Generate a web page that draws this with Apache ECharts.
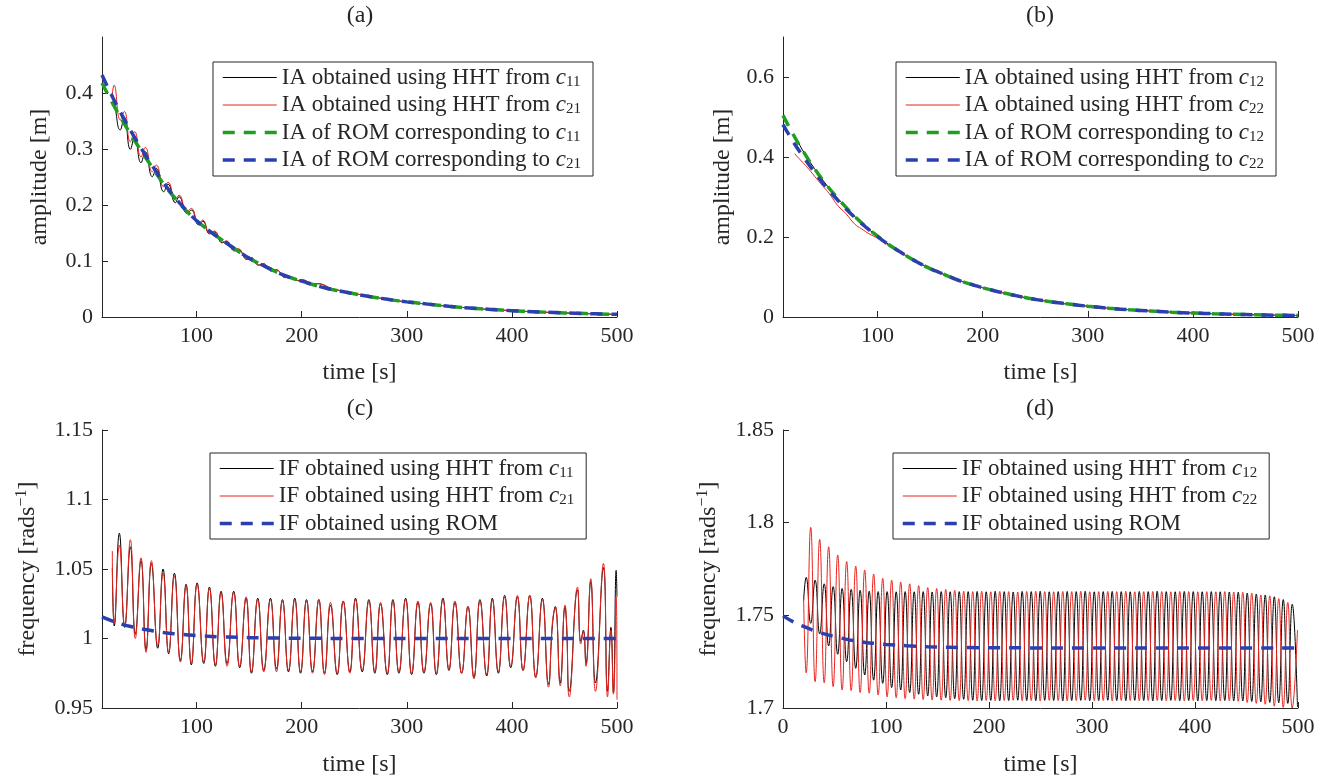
<!DOCTYPE html>
<html><head><meta charset="utf-8">
<script src="https://cdn.jsdelivr.net/npm/echarts@6/dist/echarts.min.js"></script>
<style>html,body{margin:0;padding:0;background:#fff}#c{width:1342px;height:782px}</style>
</head><body><div id="c"></div>
<script>
// ---------- Panel (a): instantaneous amplitude, c11 / c21 ----------
const aHhtTime = [19.5,21.5,27.4,31.2,37.0,41.0,47.1,51.2,57.9,61.7,68.7,72.8,79.8,83.3,90.9,95.0,102.0,105.8,112.5,117.0,124.3,128.4,136.0,139.5,148.1,151.9,159.1,163.3,171.9,175.7,184.6,188.4,197.0,201.0,210.0,214.0,230.0,250.0,275.0,300.0,350.0,400.0,450.0,500.0];
const aHhtC11 = [0.400,0.386,0.334,0.357,0.2995,0.321,0.2755,0.295,0.2505,0.2655,0.2236,0.2374,0.204,0.2147,0.185,0.191,0.1645,0.171,0.1485,0.152,0.1325,0.135,0.118,0.121,0.1027,0.1055,0.0925,0.095,0.0817,0.0842,0.0703,0.0725,0.0650,0.0662,0.0585,0.0596,0.0500,0.0420,0.0335,0.0270,0.0175,0.0113,0.0073,0.0047];
const aHhtC21 = [0.392,0.414,0.352,0.367,0.313,0.331,0.286,0.303,0.2594,0.2714,0.2326,0.2404,0.2088,0.2177,0.188,0.194,0.167,0.173,0.150,0.1535,0.1335,0.136,0.1185,0.122,0.103,0.1063,0.093,0.0955,0.082,0.0847,0.0705,0.0727,0.0652,0.0666,0.0587,0.0598,0.0502,0.0421,0.0336,0.0270,0.0175,0.0113,0.0073,0.0047];
const romTime = [10,20,30,40,50,60,70,80,90,100,110,120,130,140,150,160,170,180,190,200,220,240,260,280,300,320,340,360,380,400,420,440,460,480,500];
const aRomC11 = [0.418,0.382,0.349,0.318,0.289,0.261,0.234,0.211,0.190,0.172,0.157,0.143,0.130,0.117,0.105,0.095,0.086,0.077,0.070,0.064,0.053,0.045,0.038,0.032,0.027,0.023,0.019,0.016,0.0135,0.0113,0.0095,0.008,0.0067,0.0056,0.0047];
const aRomC21 = [0.432,0.393,0.357,0.324,0.293,0.264,0.236,0.212,0.191,0.172,0.157,0.143,0.130,0.117,0.105,0.095,0.086,0.077,0.070,0.064,0.053,0.045,0.038,0.032,0.027,0.023,0.019,0.016,0.0135,0.0113,0.0095,0.008,0.0067,0.0056,0.0047];

// ---------- Panel (b): instantaneous amplitude, c12 / c22 ----------
const bBlackTime = [23,30,40,50,60,70,80,90,100,120,140,160,180,200,250,300,350,400,450,500];
const bHhtC12 = [0.444,0.411,0.371,0.335,0.303,0.274,0.247,0.223,0.202,0.165,0.134,0.110,0.089,0.073,0.044,0.027,0.0165,0.010,0.0061,0.0037];
const bRedTime = [21,25,30,35,40,46,50,55,62,70,78,85,92,100,110,120,130,140,150,160,170,180,190,200,220,240,260,280,300,320,340,360,380,400,420,440,460,480,500];
const bHhtC22 = [0.4085,0.397,0.383,0.368,0.352,0.333,0.321,0.305,0.279,0.258,0.233,0.220,0.208,0.197,0.180,0.164,0.149,0.135,0.122,0.110,0.099,0.089,0.081,0.073,0.060,0.049,0.040,0.033,0.027,0.022,0.018,0.015,0.012,0.010,0.0082,0.0067,0.0055,0.0045,0.0037];
const bRomC12 = [0.504,0.455,0.411,0.371,0.335,0.303,0.274,0.247,0.223,0.202,0.182,0.165,0.149,0.134,0.121,0.110,0.099,0.089,0.081,0.073,0.060,0.049,0.040,0.033,0.027,0.022,0.018,0.015,0.012,0.010,0.0082,0.0067,0.0055,0.0045,0.0037];
const bRomC22 = [0.481,0.437,0.398,0.362,0.328,0.298,0.270,0.245,0.222,0.201,0.182,0.165,0.149,0.134,0.121,0.110,0.099,0.089,0.081,0.073,0.060,0.049,0.040,0.033,0.027,0.022,0.018,0.015,0.012,0.010,0.0082,0.0067,0.0055,0.0045,0.0037];

// ---------- Panel (c): instantaneous frequency, c11 / c21 (extrema) ----------
const cTime = [19.8,21.7,26.5,31.6,37.0,41.7,47.1,51.9,57.0,63.0,68.1,73.4,78.9,84.6,90.0,95.0,100.5,106.8,112.2,117.9,123.3,129.0,135.3,141.0,147.1,152.2,158.2,163.9,170.3,176.0,181.7,187.4,193.4,198.9,204.6,210.3,216.3,221.7,227.4,233.8,239.5,245.8,251.2,257.6,263.9,269.6,275.0,281.4,286.8,292.5,298.9,304.6,310.6,316.3,322.7,328.1,334.4,340.1,345.8,352.2,358.2,363.9,369.6,376.0,381.4,387.1,393.1,398.9,405.2,410.6,417.0,422.7,429.0,434.8,438.6,441.3,446.0,450.6,452.0,454.6,462.4,465.5,468.0,470.5,475.0,479.5,487.1,491.0,494.2,496.6,499.2,500];
const cHhtC11 = [1.051,1.009,1.0757,1.008,1.066,1.003,1.056,0.992,1.054,0.993,
 1.050,0.989,1.047,0.984,1.039,0.981,1.040,0.982,1.037,0.980,
 1.034,0.982,1.034,0.979,1.029,0.975,1.029,0.977,1.029,0.978,
 1.028,0.976,1.029,0.975,1.028,0.976,1.028,0.975,1.024,0.974,
 1.027,0.976,1.029,0.976,1.028,0.975,1.025,0.974,1.028,0.975,
 1.029,0.974,1.026,0.975,1.025,0.974,1.029,0.977,1.026,0.975,
 1.023,0.972,1.028,0.973,1.029,0.975,1.031,0.979,1.030,0.977,
 1.031,0.972,1.029,0.967,1.010,1.023,0.968,1.023,1.010,0.962,
 1.035,0.998,1.006,0.982,1.041,0.968,1.051,0.962,1.008,0.961,
 1.049,1.030];
const cHhtC21 = [1.063,1.011,1.067,1.009,1.071,1.000,1.058,0.990,1.056,0.995,
 1.047,0.990,1.045,0.983,1.038,0.982,1.039,0.983,1.036,0.981,
 1.033,0.980,1.033,0.980,1.030,0.976,1.028,0.976,1.028,0.976,
 1.027,0.977,1.028,0.976,1.027,0.975,1.028,0.974,1.026,0.975,
 1.027,0.975,1.028,0.977,1.027,0.976,1.026,0.975,1.027,0.976,
 1.028,0.975,1.027,0.976,1.026,0.975,1.028,0.978,1.027,0.975,
 1.023,0.971,1.027,0.974,1.028,0.976,1.030,0.980,1.031,0.977,
 1.031,0.972,1.028,0.965,1.012,1.022,0.966,1.024,1.012,0.958,
 1.037,0.996,1.005,0.980,1.043,0.962,1.054,0.958,1.006,0.960,
 1.030,0.956];
const cRomTime = [10,20,30,40,50,60,70,80,90,100,120,140,160,180,200,250,300,400,500];
const cRom = [1.0155,1.0125,1.0100,1.0082,1.0066,1.0053,1.0042,1.0034,1.0027,1.0021,1.0013,1.0008,1.0005,1.0003,1.0002,1.0,1.0,1.0,1.0];

// ---------- Panel (d): instantaneous frequency, c12 / c22 (extrema) ----------
const dTime = [20,22.5,26.9,31.2,35.6,40.0,44.3,48.7,53.1,57.4,61.8,66.2,70.6,74.9,79.3,83.7,88.0,92.4,96.8,101.1,105.5,109.9,114.3,118.6,123.0,127.4,131.7,136.1,140.5,144.8,149.2,153.6,158.0,162.3,166.7,171.1,175.4,
 179.8,184.2,188.5,192.9,197.3,201.7,206.0,210.4,214.8,219.1,223.5,227.9,232.2,236.6,241.0,245.4,249.7,254.1,258.5,262.8,267.2,271.6,275.9,280.3,284.7,289.1,293.4,297.8,302.2,306.5,310.9,315.3,319.6,324.0,328.4,332.8,337.1,341.5,345.9,350.2,354.6,359.0,363.3,367.7,372.1,376.5,380.8,385.2,389.6,393.9,398.3,402.7,407.0,411.4,415.8,420.2,424.5,428.9,433.3,437.6,
 442.0,446.4,450.7,455.1,459.5,463.9,468.2,472.6,477.0,481.3,485.7,490.1,494.4,499.5];
const dHhtC22 = [1.760,1.719,1.7975,1.7142,1.791,1.7136,1.787,1.7115,1.7826,1.7097,1.779,1.7094,1.7766,1.7083,1.7745,1.708,1.7723,1.707,1.770,1.706,1.769,1.7055,1.768,1.705,1.767,1.7048,1.766,1.7045,1.765,1.7043,1.7645,1.7042,1.764,1.7041,1.7635,1.704,1.763,
 1.7040,1.7628,1.7038,1.7630,1.7041,1.7627,1.7039,1.7629,1.7040,1.7628,1.7042,1.7626,1.7039,1.7629,1.7040,1.7630,1.7038,1.7628,1.7041,1.7627,1.7040,1.7629,1.7039,1.7628,1.7040,1.7630,1.7042,1.7627,1.7039,1.7628,1.7040,1.7629,1.7038,1.7628,1.7041,1.7630,1.7040,1.7627,1.7039,1.7628,1.7040,1.7629,1.7041,1.7628,1.7039,1.7627,1.7040,1.7629,1.7038,1.7628,1.7040,1.7627,1.7039,1.7628,1.7041,1.7627,1.7038,1.7628,1.7039,1.7626,
 1.7036,1.7625,1.703,1.762,1.7025,1.761,1.702,1.7605,1.701,1.759,1.7003,1.757,1.700,1.742];
const dHhtC12 = [1.758,1.7705,1.7457,1.769,1.740,1.767,1.7335,1.7655,1.729,1.7645,1.725,1.764,1.7214,1.7635,1.7178,1.763,1.715,1.7628,1.7133,1.7628,1.711,1.7627,1.7097,1.7628,1.7083,1.7627,1.7074,1.7628,1.7065,1.7626,1.706,1.7628,1.7055,1.7627,1.705,1.7628,1.7047,
 1.7628,1.7042,1.7629,1.7040,1.7627,1.7041,1.7630,1.7039,1.7628,1.7040,1.7626,1.7042,1.7629,1.7040,1.7628,1.7039,1.7630,1.7041,1.7627,1.7040,1.7628,1.7038,1.7629,1.7040,1.7628,1.7041,1.7630,1.7039,1.7627,1.7040,1.7628,1.7042,1.7629,1.7040,1.7628,1.7039,1.7627,1.7041,1.7629,1.7040,1.7628,1.7038,1.7630,1.7040,1.7628,1.7041,1.7627,1.7039,1.7629,1.7040,1.7628,1.7038,1.7627,1.7040,1.7628,1.7039,1.7627,1.7040,1.7626,1.7038,
 1.7625,1.7038,1.762,1.7035,1.7615,1.7033,1.761,1.703,1.760,1.7028,1.7585,1.7025,1.756,1.7005];
const dRomTime = [0,10,20,30,40,50,60,70,80,90,100,120,140,160,180,200,300,400,500];
const dRom = [1.7497,1.7465,1.7440,1.7418,1.7400,1.7386,1.7373,1.7362,1.7354,1.7348,1.7343,1.7336,1.7331,1.7328,1.7326,1.7325,1.7324,1.7324,1.7324];

// ---------- labels ----------
const panelTitles = ['(a)','(b)','(c)','(d)'];
const legendLabels = {
  a1:'{t|IA obtained using HHT from }{c|c}{s|11}', a2:'{t|IA obtained using HHT from }{c|c}{s|21}',
  a3:'{t|IA of ROM corresponding to }{c|c}{s|11}', a4:'{t|IA of ROM corresponding to }{c|c}{s|21}',
  b1:'{t|IA obtained using HHT from }{c|c}{s|12}', b2:'{t|IA obtained using HHT from }{c|c}{s|22}',
  b3:'{t|IA of ROM corresponding to }{c|c}{s|12}', b4:'{t|IA of ROM corresponding to }{c|c}{s|22}',
  c1:'{t|IF obtained using HHT from }{c|c}{s|11}', c2:'{t|IF obtained using HHT from }{c|c}{s|21}',
  c3:'{t|IF obtained using ROM}',
  d1:'{t|IF obtained using HHT from }{c|c}{s|12}', d2:'{t|IF obtained using HHT from }{c|c}{s|22}',
  d3:'{t|IF obtained using ROM}'
};

const FONT = '"Liberation Serif","Times New Roman",serif';
const INK = '#262626';
const COL = {k:'#000000', r:'#e8251f', g:'#1f9e1f', b:'#2b3faf'};
const TICK = 22, NAME = 24, LEG = 23;

const grids = [
  {left:102, top:37, width:515, height:280},
  {left:783, top:37, width:515, height:280},
  {left:102, top:430, width:515, height:278},
  {left:783, top:430, width:515, height:278}
];

function xAx(i, min, extra) {
  return Object.assign({
    type:'value', gridIndex:i, min:min, max:500,
    axisLine:{show:true, onZero:false, lineStyle:{color:INK, width:1}},
    axisTick:{show:true, inside:true, length:6, lineStyle:{color:INK}},
    splitLine:{show:false},
    axisLabel:{color:INK, fontFamily:FONT, fontSize:TICK, margin:8, showMinLabel: min === 0},
    name:'time [s]', nameLocation:'middle', nameGap:44,
    nameTextStyle:{color:INK, fontFamily:FONT, fontSize:NAME}
  }, extra || {});
}
function yAx(i, min, max, interval, name, gap, hideMax) {
  return {
    type:'value', gridIndex:i, min:min, max:max, interval:interval,
    axisLine:{show:true, onZero:false, lineStyle:{color:INK, width:1}},
    axisTick:{show:true, inside:true, length:6, lineStyle:{color:INK}},
    splitLine:{show:false},
    axisLabel:{color:INK, fontFamily:FONT, fontSize:TICK, margin:9, showMaxLabel: !hideMax},
    name:name, nameLocation:'middle', nameGap:gap,
    nameTextStyle:{color:INK, fontFamily:FONT, fontSize:NAME,
      rich:{t:{fontFamily:FONT, fontSize:NAME, color:INK}, u:{fontFamily:FONT, fontSize:16, color:INK, padding:[0,0,12,0]}}}
  };
}
function line(name, xs, ys, gi, color, width, dashed) {
  return {
    type:'line', name:name, xAxisIndex:gi, yAxisIndex:gi,
    data: xs.map((x, k) => [x, ys[k]]),
    symbol:'none', showSymbol:false, smooth:true, clip:true,
    lineStyle:{color:color, width:width, type: dashed ? [12, 9] : 'solid'},
    itemStyle:{color:color}, emphasis:{disabled:true}
  };
}
function leg(left, top, names) {
  return {
    left:left, top:top, orient:'vertical', data:names,
    itemWidth:54, itemHeight:14, itemGap:4, padding:[4,12,4,8],
    borderColor:INK, borderWidth:1, backgroundColor:'#fff', selectedMode:false,
    lineStyle:{width:'inherit'},
    itemStyle:{opacity:0, borderWidth:0},
    formatter: n => legendLabels[n],
    textStyle:{color:INK, fontFamily:FONT, fontSize:LEG,
      rich:{t:{fontFamily:FONT, fontSize:LEG, color:INK},
            c:{fontFamily:FONT, fontSize:LEG, fontStyle:'italic', color:INK},
            s:{fontFamily:FONT, fontSize:15, color:INK, padding:[9,0,0,0]}}}
  };
}
const freqName = '{t|frequency [rads}{u|\u22121}{t|]}';

const titleXY = [[360,16],[1040,16],[360,409],[1040,409]];

const option = {
  animation:false,
  backgroundColor:'#fff',
  grid: grids,
  xAxis: [
    xAx(0, 10, {minInterval:100, maxInterval:100, splitNumber:5}),
    xAx(1, 10, {minInterval:100, maxInterval:100, splitNumber:5}),
    xAx(2, 10, {minInterval:100, maxInterval:100, splitNumber:5, nameGap:45}),
    xAx(3, 0, {interval:100, nameGap:45})
  ],
  yAxis: [
    yAx(0, 0, 0.5, 0.1, 'amplitude [m]', 50, true),
    yAx(1, 0, 0.7, 0.2, 'amplitude [m]', 48, true),
    yAx(2, 0.95, 1.15, 0.05, freqName, 60, false),
    yAx(3, 1.7, 1.85, 0.05, freqName, 60, false)
  ],
  legend: [
    leg(213, 62, ['a1','a2','a3','a4']),
    leg(896, 62, ['b1','b2','b3','b4']),
    leg(210, 453, ['c1','c2','c3']),
    leg(893, 453, ['d1','d2','d3'])
  ],
  graphic: panelTitles.map((t, i) => ({
    type:'text', x:titleXY[i][0], y:titleXY[i][1],
    style:{text:t, fill:INK, font:NAME + 'px ' + FONT, align:'center', verticalAlign:'middle', textAlign:'center', textVerticalAlign:'middle'}
  })),
  series: [
    line('a1', aHhtTime, aHhtC11, 0, COL.k, 1, false),
    line('a2', aHhtTime, aHhtC21, 0, COL.r, 1, false),
    line('a3', romTime, aRomC11, 0, COL.g, 3.5, true),
    line('a4', romTime, aRomC21, 0, COL.b, 3.5, true),
    line('b1', bBlackTime, bHhtC12, 1, COL.k, 1, false),
    line('b2', bRedTime, bHhtC22, 1, COL.r, 1, false),
    line('b3', romTime, bRomC12, 1, COL.g, 3.5, true),
    line('b4', romTime, bRomC22, 1, COL.b, 3.5, true),
    line('c1', cTime, cHhtC11, 2, COL.k, 1, false),
    line('c2', cTime, cHhtC21, 2, COL.r, 1, false),
    line('c3', cRomTime, cRom, 2, COL.b, 3.5, true),
    line('d1', dTime, dHhtC12, 3, COL.k, 1, false),
    line('d2', dTime, dHhtC22, 3, COL.r, 1, false),
    line('d3', dRomTime, dRom, 3, COL.b, 3.5, true)
  ]
};
const chart = echarts.init(document.getElementById('c'), null, {renderer:'canvas'});
chart.setOption(option);
</script></body></html>
